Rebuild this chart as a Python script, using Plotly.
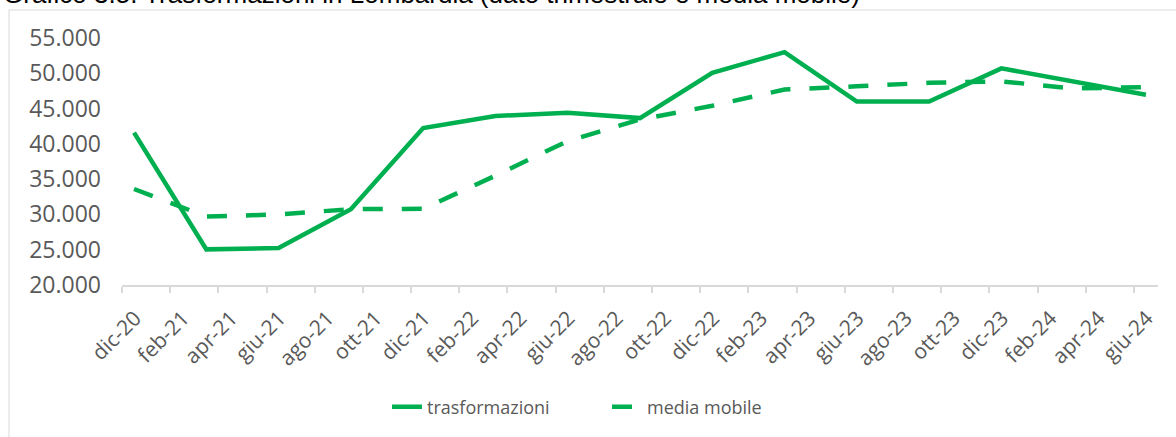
import plotly.graph_objects as go

# ---- data ----
periodi = ["dic-20", "mar-21", "giu-21", "set-21", "dic-21", "mar-22", "giu-22", "set-22",
           "dic-22", "mar-23", "giu-23", "set-23", "dic-23", "mar-24", "giu-24"]
trasformazioni = [41600, 25050, 25250, 30750, 42250, 43950, 44400, 43650,
                  50050, 53000, 46000, 46000, 50700, 48850, 46950]
media_mobile = [33600, 29700, 30000, 30750, 30800, 35500, 40400, 43450,
                45400, 47700, 48150, 48650, 48850, 47850, 48050]
tick_labels = ["dic-20", "feb-21", "apr-21", "giu-21", "ago-21", "ott-21", "dic-21",
               "feb-22", "apr-22", "giu-22", "ago-22", "ott-22", "dic-22", "feb-23",
               "apr-23", "giu-23", "ago-23", "ott-23", "dic-23", "feb-24", "apr-24", "giu-24"]
y_ticks = [20000, 25000, 30000, 35000, 40000, 45000, 50000, 55000]

titolo = "Grafico 3.5. Trasformazioni in Lombardia (dato trimestrale e media mobile)"

MESI = ["gen", "feb", "mar", "apr", "mag", "giu", "lug", "ago", "set", "ott", "nov", "dic"]


def month_index(label):
    m, y = label.split("-")
    return (2000 + int(y) - 2020) * 12 + MESI.index(m) - 11


# points sit in the middle of their month slot (Excel date axis, base unit month)
x_pts = [month_index(p) + 0.5 for p in periodi]
x_ticks = [month_index(t) for t in tick_labels]

GREEN = "#00B050"
GRAY_TXT = "#595959"
AX_GRAY = "#D9D9D9"
FONT = "Open Sans, DejaVu Sans, sans-serif"

fig = go.Figure()
fig.add_trace(go.Scatter(x=x_pts, y=trasformazioni, name="trasformazioni", mode="lines",
                         line=dict(color=GREEN, width=4.5)))
fig.add_trace(go.Scatter(x=x_pts, y=media_mobile, name="media mobile", mode="lines",
                         line=dict(color=GREEN, width=4.5, dash="20px,19px")))

W, H = 1176, 437
L, R, T, B = 122, 18, 38, 152
pw, ph = W - L - R, H - T - B

fig.update_layout(
    width=W, height=H,
    margin=dict(l=L, r=R, t=T, b=B, autoexpand=False),
    paper_bgcolor="white", plot_bgcolor="white",
    separators=",.",
    showlegend=True,
    legend=dict(orientation="h", x=(387 - L) / pw, xanchor="left",
                y=(T + ph - 407) / ph, yanchor="middle",
                font=dict(family=FONT, size=18, color=GRAY_TXT),
                entrywidth=175, entrywidthmode="pixels",
                tracegroupgap=0, bgcolor="rgba(0,0,0,0)"),
    annotations=[dict(text=titolo, xref="paper", x=(1 - L) / pw, xanchor="left",
                      yref="paper", y=(T + ph - 11) / ph, yanchor="bottom", showarrow=False,
                      font=dict(family="Liberation Sans, Arial, sans-serif", size=26,
                                color="#000000"))],
    xaxis=dict(range=[x_ticks[0], x_ticks[-1] + 1], tickmode="array", tickvals=x_ticks,
               ticktext=tick_labels, tickangle=-45, showgrid=False, zeroline=False,
               showline=True, linecolor=AX_GRAY, linewidth=1.5, automargin=False,
               ticks="outside", ticklen=6, tickcolor=AX_GRAY, tickwidth=1.5,
               tickfont=dict(family=FONT, size=21, color=GRAY_TXT),
               ticklabelshift=13, ticklabelstandoff=5),
    yaxis=dict(range=[20000, 55000], tickmode="array", tickvals=y_ticks, tickformat=",d",
               showgrid=False, zeroline=False, showline=False, ticks="", automargin=False,
               tickfont=dict(family=FONT, size=23, color=GRAY_TXT), ticklabelstandoff=20),
    shapes=[dict(type="rect", xref="paper", yref="paper",
                 x0=(9 - L) / pw, x1=1.2, y0=-1.5, y1=(T + ph - 10) / ph,
                 line=dict(color=AX_GRAY, width=1), fillcolor="rgba(0,0,0,0)", layer="below")],
)

fig.write_html("out.html", config={"displayModeBar": False},
               post_script="document.body.style.margin='0';document.body.style.overflow='hidden';")
